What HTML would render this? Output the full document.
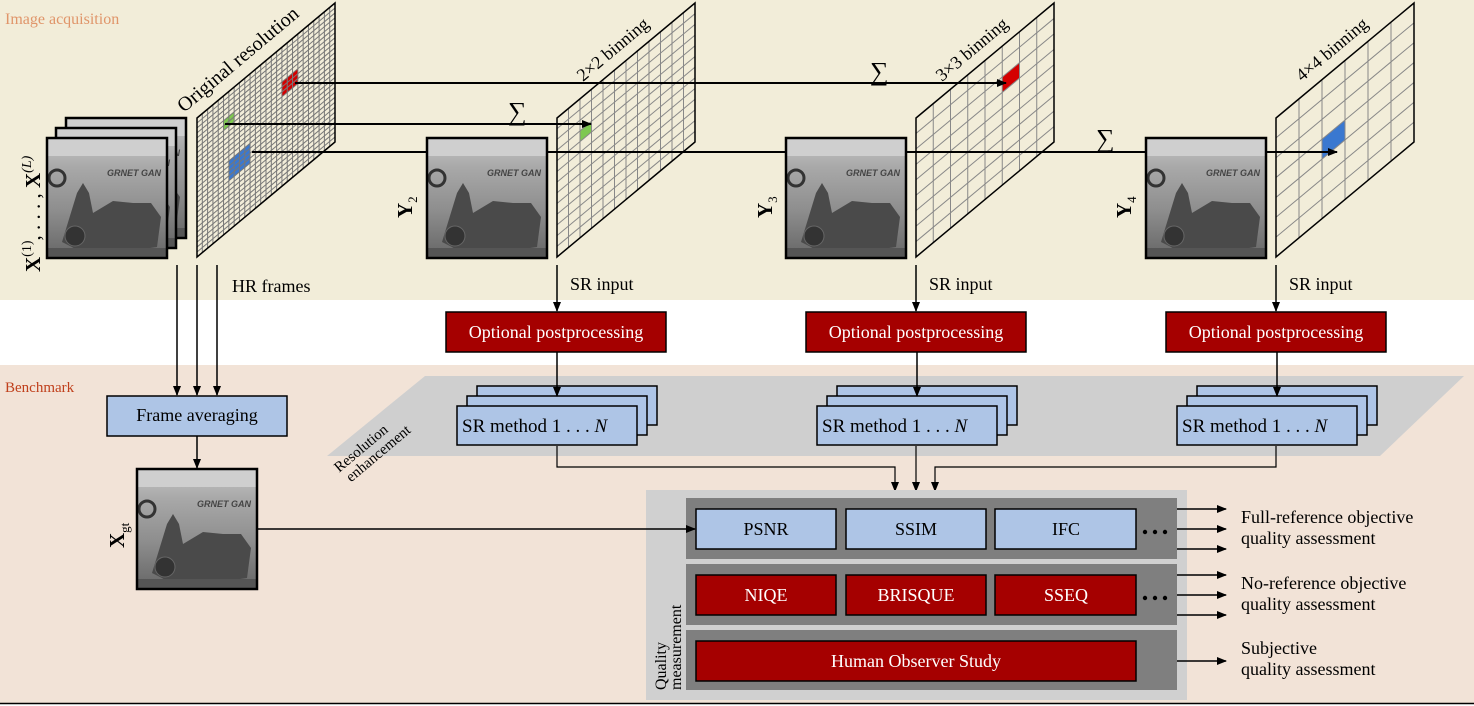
<!DOCTYPE html>
<html><head><meta charset="utf-8">
<style>
html,body{margin:0;padding:0;background:#fff;}
svg{display:block;font-family:"Liberation Serif",serif;}
</style></head>
<body>
<svg id="s" width="1474" height="706" viewBox="0 0 1474 706" xmlns="http://www.w3.org/2000/svg">
<defs>
<marker id="ah" markerWidth="10" markerHeight="8" refX="9" refY="4" orient="auto" markerUnits="userSpaceOnUse">
<path d="M0,0 L10,4 L0,8 z" fill="#000"/></marker>
<linearGradient id="img" x1="0" y1="0" x2="0" y2="1">
<stop offset="0" stop-color="#c4c4c4"/><stop offset="0.25" stop-color="#a8a8a8"/><stop offset="0.6" stop-color="#8e8e8e"/><stop offset="1" stop-color="#666"/></linearGradient>
<g id="pic">
<rect x="0" y="0" width="120" height="120" fill="url(#img)"/>
<rect x="0" y="0" width="120" height="18" fill="#cfcfcf"/>
<circle cx="10" cy="40" r="8" fill="none" stroke="#333" stroke-width="3"/>
<text x="60" y="38" font-size="9" font-style="italic" font-weight="bold" fill="#444" font-family="Liberation Sans,sans-serif">GRNET GAN</text>
<path d="M30,55 l6,-10 l6,10 l4,20 l20,-12 l20,2 l18,0 l10,14 l-4,30 l-70,10 l-15,-10 l-10,-5 z" fill="#4a4a4a"/>
<circle cx="28" cy="98" r="10" fill="#333" stroke="#666"/>
<rect x="0" y="110" width="120" height="10" fill="#555"/>
<rect x="0" y="0" width="120" height="120" fill="none" stroke="#000" stroke-width="2.5"/>
</g>
</defs>
<rect x="0" y="0" width="1474" height="300" fill="#f2edd9"/>
<rect x="0" y="365" width="1474" height="338" fill="#f2e3d7"/>
<line x1="0" y1="703.5" x2="1474" y2="703.5" stroke="#000" stroke-width="1.5"/>
<text x="5" y="24" font-size="16" fill="#e0956a">Image acquisition</text>
<text x="5" y="392" font-size="15" fill="#c0401c">Benchmark</text>

<g id="grids"></g>

<use href="#pic" x="66" y="118"/>
<use href="#pic" x="56" y="128"/>
<use href="#pic" x="47" y="138"/>
<use href="#pic" x="427" y="138"/>
<use href="#pic" x="786" y="138"/>
<use href="#pic" x="1146" y="138"/>
<use href="#pic" x="137" y="469"/>

<text transform="translate(40,272) rotate(-90)" font-size="21" font-weight="bold">X<tspan font-size="14" dy="-9" font-weight="normal">(1)</tspan><tspan dy="9" font-weight="normal">, . . . ,</tspan> X<tspan font-size="14" dy="-9" font-weight="normal" font-style="italic">(L)</tspan></text>
<text transform="translate(412,218) rotate(-90)" font-size="21" font-weight="bold">Y<tspan font-size="13" dy="5" font-weight="normal">2</tspan></text>
<text transform="translate(772,218) rotate(-90)" font-size="21" font-weight="bold">Y<tspan font-size="13" dy="5" font-weight="normal">3</tspan></text>
<text transform="translate(1131,218) rotate(-90)" font-size="21" font-weight="bold">Y<tspan font-size="13" dy="5" font-weight="normal">4</tspan></text>
<text transform="translate(124,548) rotate(-90)" font-size="21" font-weight="bold">X<tspan font-size="13" dy="5" font-weight="normal">gt</tspan></text>

<text transform="translate(184,113) rotate(-40)" font-size="20">Original resolution</text>
<text transform="translate(583,82) rotate(-40)" font-size="18">2×2 binning</text>
<text transform="translate(942,82) rotate(-40)" font-size="18">3×3 binning</text>
<text transform="translate(1302,82) rotate(-40)" font-size="18">4×4 binning</text>
<text x="508" y="120" font-size="26">∑</text>
<text x="870" y="80" font-size="26">∑</text>
<text x="1096" y="147" font-size="26">∑</text>

<g stroke="#000" stroke-width="1.5" fill="none">
<line x1="177" y1="265" x2="177" y2="395" marker-end="url(#ah)"/>
<line x1="197" y1="265" x2="197" y2="395" marker-end="url(#ah)"/>
<line x1="217" y1="265" x2="217" y2="395" marker-end="url(#ah)"/>
<line x1="557" y1="265" x2="557" y2="311" marker-end="url(#ah)"/>
<line x1="916" y1="265" x2="916" y2="311" marker-end="url(#ah)"/>
<line x1="1276" y1="265" x2="1276" y2="311" marker-end="url(#ah)"/>
</g>
<text x="232" y="292" font-size="18">HR frames</text>
<text x="570" y="290" font-size="18">SR input</text>
<text x="929" y="290" font-size="18">SR input</text>
<text x="1289" y="290" font-size="18">SR input</text>

<g font-size="18" fill="#fff" text-anchor="middle">
<rect x="446" y="312" width="220" height="40" fill="#a50000" stroke="#000" stroke-width="1.5"/><text x="556" y="338">Optional postprocessing</text>
<rect x="806" y="312" width="220" height="40" fill="#a50000" stroke="#000" stroke-width="1.5"/><text x="916" y="338">Optional postprocessing</text>
<rect x="1166" y="312" width="220" height="40" fill="#a50000" stroke="#000" stroke-width="1.5"/><text x="1276" y="338">Optional postprocessing</text>
</g>

<polygon points="425,376 1464,376 1380,456 327,456" fill="#cfcfcf"/>
<text transform="translate(364,452) rotate(-40)" font-size="15" text-anchor="middle"><tspan x="0" y="0">Resolution</tspan><tspan x="10" y="15">enhancement</tspan></text>

<g id="srs"></g>

<rect x="107" y="396" width="180" height="40" fill="#aec5e6" stroke="#000" stroke-width="1.5"/>
<text x="197" y="421" font-size="18" text-anchor="middle">Frame averaging</text>
<line x1="197" y1="436" x2="197" y2="468" stroke="#000" stroke-width="1.5" marker-end="url(#ah)"/>

<g stroke="#000" stroke-width="1.2" fill="none">
<polyline points="557,446 557,467 895,467 895,491" marker-end="url(#ah)"/>
<polyline points="916,446 916,491" marker-end="url(#ah)"/>
<polyline points="1276,446 1276,467 935,467 935,491" marker-end="url(#ah)"/>
</g>

<rect x="646" y="490" width="541" height="210" fill="#d0d0d0"/>
<rect x="686" y="498" width="491" height="61" fill="#7f7f7f"/>
<rect x="686" y="564" width="491" height="61" fill="#7f7f7f"/>
<rect x="686" y="630" width="491" height="60" fill="#7f7f7f"/>
<line x1="258" y1="529" x2="695" y2="529" stroke="#000" stroke-width="1.5" marker-end="url(#ah)"/>
<text transform="translate(666,690) rotate(-90)" font-size="16"><tspan x="0" y="0">Quality</tspan><tspan x="0" y="15">measurement</tspan></text>
<g font-size="18" text-anchor="middle" stroke-width="1.5">
<rect x="696" y="509" width="140" height="40" fill="#aec5e6" stroke="#000"/><text x="766" y="535">PSNR</text>
<rect x="846" y="509" width="140" height="40" fill="#aec5e6" stroke="#000"/><text x="916" y="535">SSIM</text>
<rect x="995" y="509" width="141" height="40" fill="#aec5e6" stroke="#000"/><text x="1066" y="535">IFC</text>
<g fill="#fff">
<rect x="696" y="575" width="140" height="40" fill="#a50000" stroke="#000"/><text x="766" y="601">NIQE</text>
<rect x="846" y="575" width="140" height="40" fill="#a50000" stroke="#000"/><text x="916" y="601">BRISQUE</text>
<rect x="995" y="575" width="141" height="40" fill="#a50000" stroke="#000"/><text x="1066" y="601">SSEQ</text>
<rect x="696" y="641" width="440" height="40" fill="#a50000" stroke="#000"/><text x="916" y="667">Human Observer Study</text>
</g></g>
<g fill="#000"><circle cx="1145" cy="532" r="2.2"/><circle cx="1155" cy="532" r="2.2"/><circle cx="1165" cy="532" r="2.2"/>
<circle cx="1145" cy="598" r="2.2"/><circle cx="1155" cy="598" r="2.2"/><circle cx="1165" cy="598" r="2.2"/></g>
<g stroke="#000" stroke-width="1.5">
<line x1="1177" y1="509" x2="1226" y2="509" marker-end="url(#ah)"/>
<line x1="1177" y1="529" x2="1226" y2="529" marker-end="url(#ah)"/>
<line x1="1177" y1="549" x2="1226" y2="549" marker-end="url(#ah)"/>
<line x1="1177" y1="575" x2="1226" y2="575" marker-end="url(#ah)"/>
<line x1="1177" y1="595" x2="1226" y2="595" marker-end="url(#ah)"/>
<line x1="1177" y1="615" x2="1226" y2="615" marker-end="url(#ah)"/>
<line x1="1177" y1="661" x2="1226" y2="661" marker-end="url(#ah)"/>
</g>
<g font-size="18">
<text x="1241" y="523">Full-reference objective</text><text x="1241" y="544">quality assessment</text>
<text x="1241" y="589">No-reference objective</text><text x="1241" y="610">quality assessment</text>
<text x="1241" y="654">Subjective</text><text x="1241" y="675">quality assessment</text>
</g>
</svg>
<script>
var NS="http://www.w3.org/2000/svg";
function el(p,t,a){var e=document.createElementNS(NS,t);for(var k in a)e.setAttribute(k,a[k]);p.appendChild(e);return e;}
var g=document.getElementById("grids");
function P(L,u,v){return [L+138*u,118-115*u+139*v];}
function poly(L,u0,v0,u1,v1){var a=[P(L,u0,v0),P(L,u1,v0),P(L,u1,v1),P(L,u0,v1)];return a.map(function(p){return p[0].toFixed(1)+","+p[1].toFixed(1)}).join(" ");}
function plate(L,n,m,cells,col){
 el(g,"polygon",{points:poly(L,0,0,1,1),fill:"#f2edd9"});
 cells.forEach(function(c){el(g,"polygon",{points:poly(L,c[0]/n,c[1]/m,c[2]/n,c[3]/m),fill:c[4]});});
 for(var i=1;i<n;i++){var a=P(L,i/n,0),b=P(L,i/n,1);el(g,"line",{x1:a[0],y1:a[1],x2:b[0],y2:b[1],stroke:col,"stroke-width":1});}
 for(var j=1;j<m;j++){var a=P(L,0,j/m),b=P(L,1,j/m);el(g,"line",{x1:a[0],y1:a[1],x2:b[0],y2:b[1],stroke:col,"stroke-width":1});}
 el(g,"polygon",{points:poly(L,0,0,1,1),fill:"none",stroke:"#000","stroke-width":1.5});
}
plate(197,26,28,[[16,7,19,10,"#d40000"],[5,5,7,7,"#7ec850"],[6,14,10,18,"#3a78d0"]],"#777");
plate(557,12,13,[[2,3,3,4,"#7ec850"]],"#888");
plate(916,8,9,[[5,2,6,3,"#d40000"]],"#888");
plate(1276,6,7,[[2,3,3,4,"#3a78d0"]],"#888");
el(g,"line",{x1:295,y1:83,x2:1006,y2:83,stroke:"#000","stroke-width":2,"marker-end":"url(#ah)"});
el(g,"line",{x1:225,y1:124,x2:591,y2:124,stroke:"#000","stroke-width":2,"marker-end":"url(#ah)"});
el(g,"line",{x1:252,y1:152,x2:1337,y2:152,stroke:"#000","stroke-width":2,"marker-end":"url(#ah)"});
var s=document.getElementById("srs");
[457,817,1177].forEach(function(x){
 for(var k=2;k>=0;k--){el(s,"rect",{x:x+10*k,y:406-10*k,width:180,height:39,fill:"#aec5e6",stroke:"#000","stroke-width":1.5});}
 var t=el(s,"text",{x:x+5,y:432,"font-size":19});t.textContent="SR method 1 . . . ";
 var ti=el(t,"tspan",{"font-style":"italic"});ti.textContent="N";
 el(s,"line",{x1:x+100,y1:352,x2:x+100,y2:396,stroke:"#000","stroke-width":1.5,"marker-end":"url(#ah)"});
});
</script>
</body></html>
